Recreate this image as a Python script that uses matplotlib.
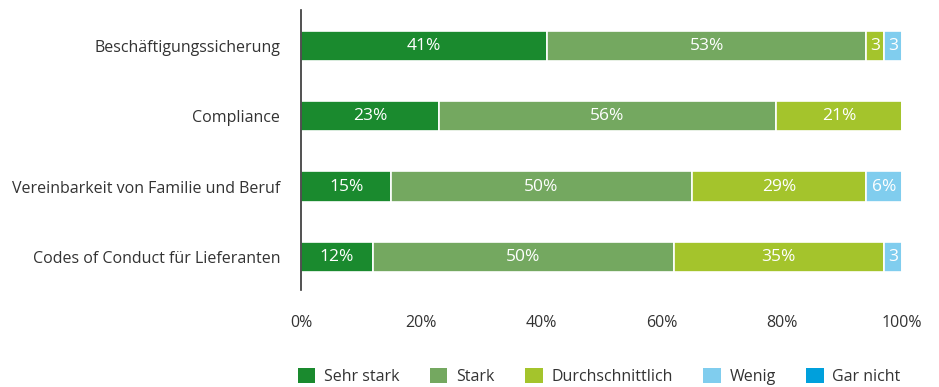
import matplotlib
matplotlib.use("Agg")
import matplotlib.pyplot as plt
from matplotlib.patches import Patch
import numpy as np

plt.rcParams['font.family'] = ['Open Sans', 'DejaVu Sans']

# Kategorien und Anteile (in %)
kategorien = ['Beschäftigungssicherung', 'Compliance',
              'Vereinbarkeit von Familie und Beruf', 'Codes of Conduct für Lieferanten']
sehr_stark = [41, 23, 15, 12]
stark = [53, 56, 50, 50]
durchschnittlich = [3, 21, 29, 35]
wenig = [3, 0, 6, 3]
gar_nicht = [0, 0, 0, 0]

stufen = ['Sehr stark', 'Stark', 'Durchschnittlich', 'Wenig', 'Gar nicht']
farben = ['#1a8a2e', '#74a860', '#a4c42c', '#80cdee', '#00a0dc']
xticks = [0, 20, 40, 60, 80, 100]

werte = [sehr_stark, stark, durchschnittlich, wenig, gar_nicht]
textfarbe = '#333333'

fig = plt.figure(figsize=(9.39, 3.87), dpi=100)
ax = fig.add_axes([0.3206, 0.2506, 0.6400, 0.7235])

y = np.arange(len(kategorien))[::-1]
links = np.zeros(len(kategorien))
for name, farbe, serie in zip(stufen, farben, werte):
    serie = np.array(serie)
    ax.barh(y, serie, left=links, height=0.43, color=farbe,
            edgecolor='white', linewidth=1.2)
    for yi, l, v in zip(y, links, serie):
        if v > 0:
            # kleine Segmente ohne Prozentzeichen
            txt = f'{v}%' if v >= 5 else f'{v}'
            ax.text(l + v / 2, yi, txt, ha='center', va='center',
                    color='white', fontsize=12.5)
    links += serie

ax.set_xlim(0, 100)
ax.set_ylim(-0.47, 3.51)
ax.set_yticks(y)
ax.set_yticklabels(kategorien, fontsize=11.5, color=textfarbe)
ax.set_xticks(xticks)
ax.set_xticklabels([f'{t}%' for t in xticks], fontsize=11.5, color=textfarbe)
ax.tick_params(axis='y', length=0, pad=15)
ax.tick_params(axis='x', length=0, pad=18)
for s in ['top', 'right', 'bottom']:
    ax.spines[s].set_visible(False)
ax.spines['left'].set_color('#333333')
ax.spines['left'].set_linewidth(1.2)

handles = [Patch(facecolor=f, edgecolor='none') for f in farben]
fig.legend(handles, stufen, loc='center left', bbox_to_anchor=(0.317, 0.028),
           ncol=5, frameon=False, fontsize=11.5, handlelength=1.1,
           handleheight=1.1, handletextpad=0.55, columnspacing=1.9,
           labelcolor=textfarbe, borderaxespad=0, borderpad=0)

fig.savefig('out.png', dpi=100)
